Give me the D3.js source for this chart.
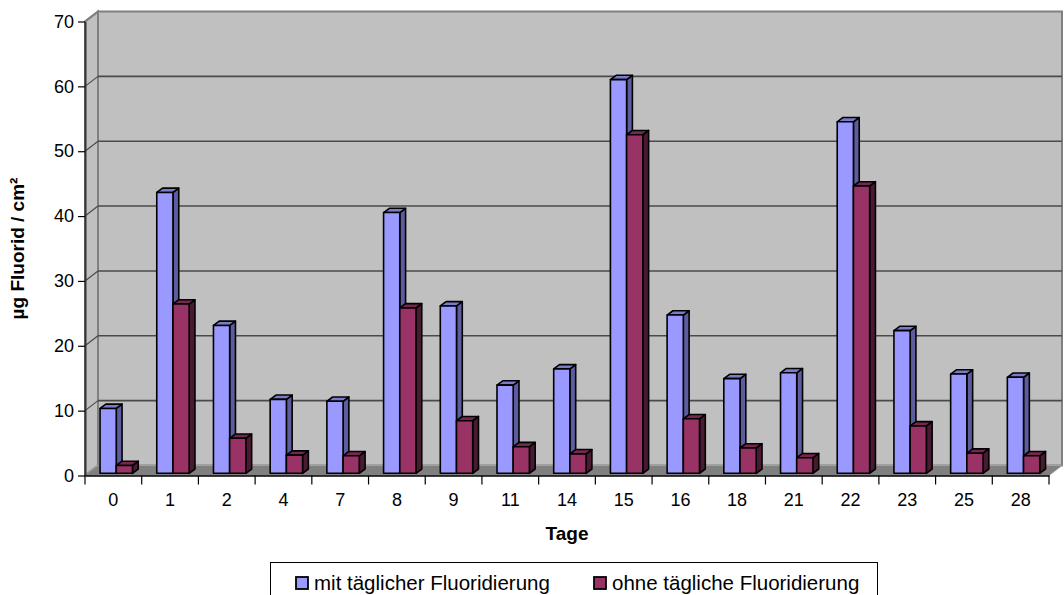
<!DOCTYPE html>
<html>
<head>
<meta charset="utf-8">
<script src="https://cdn.jsdelivr.net/npm/d3@7"></script>
<style>
  html, body { margin: 0; padding: 0; background: #fff; }
  svg { display: block; font-family: Arial, "Liberation Sans", sans-serif; }
</style>
</head>
<body>
<svg id="chart" width="1064" height="595"></svg>
<script>
// Fluoride measurements per day (µg/cm²)
const days = ["0", "1", "2", "4", "7", "8", "9", "11", "14", "15", "16", "18", "21", "22", "23", "25", "28"];
const mitFluoridierung = [10.0, 43.3, 22.8, 11.4, 11.1, 40.2, 25.8, 13.6, 16.1, 60.7, 24.4, 14.6, 15.5, 54.2, 22.0, 15.3, 14.8];
const ohneFluoridierung = [1.2, 26.1, 5.4, 2.8, 2.7, 25.5, 8.1, 4.1, 3.0, 52.2, 8.4, 3.9, 2.4, 44.3, 7.3, 3.1, 2.7];
const seriesNames = ["mit täglicher Fluoridierung", "ohne tägliche Fluoridierung"];
const yTicks = [0, 10, 20, 30, 40, 50, 60, 70];

const svg = d3.select("#chart");

// Plot frame (front plane) and 3D depth offset
const pLeft = 85, pRight = 1049, pTop = 21.5, pBottom = 475.5;
const DX = 13, DY = -10;

const x = d3.scaleBand().domain(days).range([pLeft, pRight]);
const y = d3.scaleLinear().domain([0, 70]).range([pBottom, pTop]);
const xs = d3.scaleBand().domain([0, 1]).range([0, x.bandwidth()]).paddingInner(0).paddingOuter(0.75);

const colors = [
  { front: "#9999ff", side: "#5c5c9e", top: "#7b7bcc" },
  { front: "#993366", side: "#4a1a33", top: "#74274f" }
];

// Back wall
svg.append("polygon")
  .attr("points", [[pLeft + DX, pTop + DY], [pRight + DX, pTop + DY], [pRight + DX, pBottom + DY], [pLeft + DX, pBottom + DY]].join(" "))
  .attr("fill", "#c0c0c0").attr("stroke", "#808080").attr("stroke-width", 2);
// Side wall
svg.append("polygon")
  .attr("points", [[pLeft, pTop], [pLeft + DX, pTop + DY], [pLeft + DX, pBottom + DY], [pLeft, pBottom]].join(" "))
  .attr("fill", "#c0c0c0").attr("stroke", "#808080").attr("stroke-width", 2);
// Floor
svg.append("polygon")
  .attr("points", [[pLeft, pBottom], [pLeft + DX, pBottom + DY], [pRight + DX, pBottom + DY], [pRight, pBottom]].join(" "))
  .attr("fill", "#808080").attr("stroke", "#a0a0a0").attr("stroke-width", 1);

// Gridlines on back and side wall
const grid = svg.append("g");
yTicks.filter(v => v > 0 && v < 70).forEach(v => {
  grid.append("line")
    .attr("x1", pLeft + DX).attr("x2", pRight + DX)
    .attr("y1", y(v) + DY).attr("y2", y(v) + DY)
    .attr("stroke", "#4a4a4a").attr("stroke-width", 1.6);
  grid.append("line")
    .attr("x1", pLeft).attr("x2", pLeft + DX)
    .attr("y1", y(v)).attr("y2", y(v) + DY)
    .attr("stroke", "#4a4a4a").attr("stroke-width", 1.2);
});
// Top edge of side wall
svg.append("line")
  .attr("x1", pLeft).attr("y1", pTop).attr("x2", pLeft + DX).attr("y2", pTop + DY)
  .attr("stroke", "#808080").attr("stroke-width", 2);

// Bars
const bfDX = 2.9, bfDY = -2.2;  // offset of bar fronts behind the front plane
const bdx = 5.8, bdy = -4.3;    // bar depth
const bw = xs.bandwidth();
const bars = svg.append("g");
days.forEach((d, i) => {
  [mitFluoridierung[i], ohneFluoridierung[i]].forEach((v, s) => {
    const x0 = x(d) + xs(s) + bfDX, x1 = x0 + bw;
    const yt = y(v) + bfDY, yb = y(0) + bfDY;
    const c = colors[s];
    const g = bars.append("g").attr("stroke", "#000").attr("stroke-width", 1.6).attr("stroke-linejoin", "round");
    g.append("polygon")
      .attr("points", [[x1, yt], [x1 + bdx, yt + bdy], [x1 + bdx, yb + bdy], [x1, yb]].join(" "))
      .attr("fill", c.side);
    g.append("polygon")
      .attr("points", [[x0, yt], [x0 + bdx, yt + bdy], [x1 + bdx, yt + bdy], [x1, yt]].join(" "))
      .attr("fill", c.top);
    g.append("rect")
      .attr("x", x0).attr("y", yt).attr("width", bw).attr("height", yb - yt)
      .attr("fill", c.front);
  });
});

// Y axis
const yAxis = svg.append("g")
  .attr("transform", `translate(${pLeft},0)`)
  .call(d3.axisLeft(y).tickValues(yTicks).tickSize(7).tickPadding(4).tickSizeOuter(0));
yAxis.select(".domain").attr("stroke", "#333").attr("stroke-width", 2);
yAxis.selectAll(".tick line").attr("stroke", "#000").attr("stroke-width", 1.2);
yAxis.selectAll(".tick text").attr("font-size", 18).attr("fill", "#000")
  .attr("font-family", "Arial, 'Liberation Sans', sans-serif");

// X axis
const xAxis = svg.append("g")
  .attr("transform", `translate(0,${pBottom})`)
  .call(d3.axisBottom(x).tickSize(0).tickPadding(18).tickSizeOuter(0));
xAxis.select(".domain").attr("stroke", "#000").attr("stroke-width", 1.6);
xAxis.selectAll(".tick text").attr("font-size", 18).attr("fill", "#000")
  .attr("font-family", "Arial, 'Liberation Sans', sans-serif");
// Category boundary ticks
const bounds = days.map(d => x(d)).concat([pRight]);
svg.append("g").selectAll("line").data(bounds).join("line")
  .attr("x1", d => d).attr("x2", d => d)
  .attr("y1", pBottom).attr("y2", pBottom + 9)
  .attr("stroke", "#000").attr("stroke-width", 1.2);

// Axis titles
svg.append("text")
  .attr("x", (pLeft + pRight) / 2).attr("y", 540)
  .attr("text-anchor", "middle").attr("font-size", 19).attr("font-weight", "bold")
  .text("Tage");
svg.append("text")
  .attr("transform", `translate(24,${(pTop + pBottom) / 2}) rotate(-90)`)
  .attr("text-anchor", "middle").attr("font-size", 19).attr("font-weight", "bold")
  .text("µg Fluorid / cm²");

// Legend
const legend = svg.append("g");
legend.append("rect")
  .attr("x", 270.5).attr("y", 562.5).attr("width", 607).attr("height", 50)
  .attr("fill", "#fff").attr("stroke", "#000").attr("stroke-width", 1);
const legendX = [296, 594];
seriesNames.forEach((name, s) => {
  legend.append("rect")
    .attr("x", legendX[s]).attr("y", 577).attr("width", 12).attr("height", 12)
    .attr("fill", colors[s].front).attr("stroke", "#000").attr("stroke-width", 1.8);
  legend.append("text")
    .attr("x", legendX[s] + 18).attr("y", 590)
    .attr("font-size", 20.5)
    .text(name);
});
</script>
</body>
</html>
